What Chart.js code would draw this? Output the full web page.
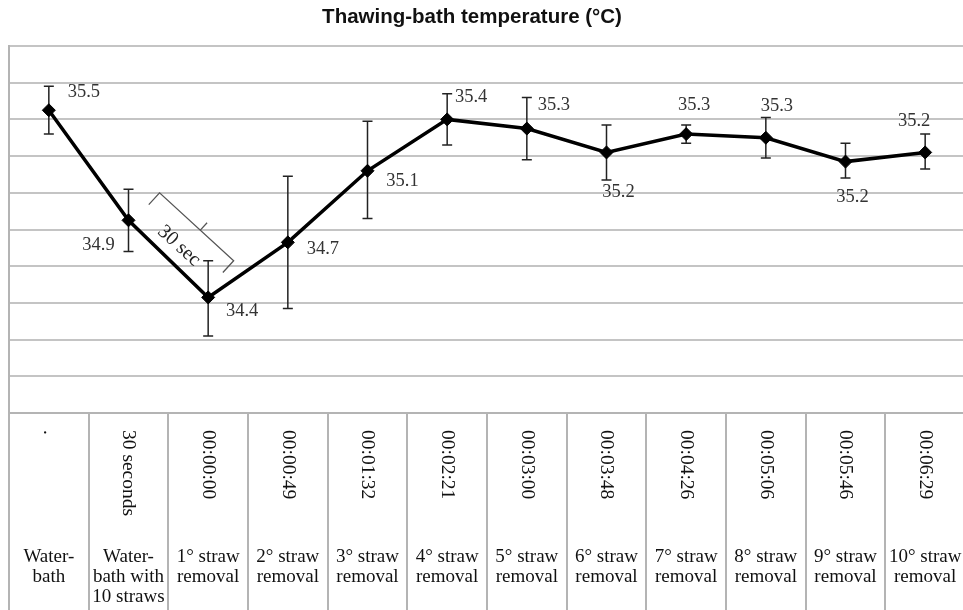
<!DOCTYPE html>
<html>
<head>
<meta charset="utf-8" />
<title>Thawing-bath temperature</title>
<script src="https://cdn.jsdelivr.net/npm/chart.js"></script>
<style>
  body { margin: 0; overflow: hidden; background: #fff; }
  #tempChart { display: block; }
</style>
</head>
<body>
<canvas id="tempChart" width="966" height="610"></canvas>
<script>
// stage names (bottom row of the table) and times (rotated row)
var stages = [
  ['Water-', 'bath'],
  ['Water-', 'bath with', '10 straws'],
  ['1\u00b0 straw', 'removal'],
  ['2\u00b0 straw', 'removal'],
  ['3\u00b0 straw', 'removal'],
  ['4\u00b0 straw', 'removal'],
  ['5\u00b0 straw', 'removal'],
  ['6\u00b0 straw', 'removal'],
  ['7\u00b0 straw', 'removal'],
  ['8\u00b0 straw', 'removal'],
  ['9\u00b0 straw', 'removal'],
  ['10\u00b0 straw', 'removal']
]
var times = ['.', '30 seconds', '00:00:00', '00:00:49', '00:01:32', '00:02:21',
             '00:03:00', '00:03:48', '00:04:26', '00:05:06', '00:05:46', '00:06:29']

// mean temperature and error bar ends (°C)
var meanTemp = [35.45, 34.85, 34.43, 34.73, 35.12, 35.40, 35.35, 35.22, 35.32, 35.30, 35.17, 35.22]
var errLow   = [35.32, 34.68, 34.22, 34.37, 34.86, 35.26, 35.18, 35.07, 35.27, 35.19, 35.08, 35.13]
var errHigh  = [35.58, 35.02, 34.63, 35.09, 35.39, 35.54, 35.52, 35.37, 35.37, 35.41, 35.27, 35.32]
var shownLabels = ['35.5', '34.9', '34.4', '34.7', '35.1', '35.4', '35.3', '35.2', '35.3', '35.3', '35.2', '35.2']

// where each value label sits relative to its point (px)
var labelOffsets = [[35, -18], [-30, 25], [34, 14], [35, 7], [35, 10], [24, -22],
                    [27, -23], [12, 40], [8, -29], [11, -32], [7, 36], [-11, -31]]

var serif = '"Liberation Serif", "Times New Roman", serif'

var errorBars = {
  id: 'errorBars',
  beforeDatasetsDraw: function(chart) {
    var ctx = chart.ctx, x = chart.scales.x, y = chart.scales.y
    ctx.save()
    ctx.strokeStyle = '#222'
    ctx.lineWidth = 1.5
    for (var i = 0; i < meanTemp.length; i++) {
      var px = x.getPixelForValue(i)
      var top = y.getPixelForValue(errHigh[i])
      var bot = y.getPixelForValue(errLow[i])
      ctx.beginPath()
      ctx.moveTo(px, top); ctx.lineTo(px, bot)
      ctx.moveTo(px - 5, top); ctx.lineTo(px + 5, top)
      ctx.moveTo(px - 5, bot); ctx.lineTo(px + 5, bot)
      ctx.stroke()
    }
    ctx.restore()
  }
}

var decorations = {
  id: 'decorations',
  afterDraw: function(chart) {
    var ctx = chart.ctx, x = chart.scales.x, y = chart.scales.y
    ctx.save()

    // title
    ctx.fillStyle = '#111'
    ctx.font = 'bold 20.5px "Liberation Sans", Arial, sans-serif'
    ctx.textAlign = 'center'
    ctx.textBaseline = 'middle'
    ctx.fillText('Thawing-bath temperature (\u00b0C)', 472, 17)

    // value labels
    ctx.fillStyle = '#333'
    ctx.font = '18.5px ' + serif
    for (var i = 0; i < meanTemp.length; i++) {
      var px = x.getPixelForValue(i), py = y.getPixelForValue(meanTemp[i])
      ctx.fillText(shownLabels[i], px + labelOffsets[i][0], py + labelOffsets[i][1])
    }

    // table under the axis
    ctx.fillStyle = '#111'
    for (var i = 0; i < stages.length; i++) {
      var cx = x.getPixelForValue(i)
      ctx.save()
      ctx.translate(cx, 430)
      ctx.rotate(Math.PI / 2)
      ctx.font = '19.5px ' + serif
      ctx.textAlign = 'left'
      ctx.textBaseline = 'middle'
      ctx.fillText(times[i], 0, 0)
      ctx.restore()

      ctx.font = '19px ' + serif
      ctx.textAlign = 'center'
      ctx.textBaseline = 'alphabetic'
      for (var j = 0; j < stages[i].length; j++) {
        ctx.fillText(stages[i][j], cx, 562 + j * 20)
      }
    }

    // "30 sec" bracket between the first two points
    var c1 = { x: x.getPixelForValue(1.39), y: y.getPixelForValue(35.0) }
    var c2 = { x: x.getPixelForValue(2.32), y: y.getPixelForValue(34.63) }
    var dx = c2.x - c1.x, dy = c2.y - c1.y
    var len = Math.sqrt(dx * dx + dy * dy)
    var ux = dx / len, uy = dy / len
    var nx = -uy, ny = ux
    ctx.strokeStyle = '#555'
    ctx.lineWidth = 1.3
    ctx.beginPath()
    ctx.moveTo(c1.x + nx * 16, c1.y + ny * 16)
    ctx.lineTo(c1.x, c1.y)
    ctx.lineTo(c2.x, c2.y)
    ctx.lineTo(c2.x + nx * 16, c2.y + ny * 16)
    var mx = c1.x + ux * len * 0.55, my = c1.y + uy * len * 0.55
    ctx.moveTo(mx, my)
    ctx.lineTo(mx - nx * 10, my - ny * 10)
    ctx.stroke()

    ctx.translate(c1.x + ux * len * 0.5 + nx * 26, c1.y + uy * len * 0.5 + ny * 26)
    ctx.rotate(Math.atan2(uy, ux))
    ctx.fillStyle = '#222'
    ctx.font = '20px ' + serif
    ctx.textAlign = 'center'
    ctx.textBaseline = 'middle'
    ctx.fillText('30 sec', 0, 0)

    ctx.restore()
  }
}

var ctx = document.getElementById('tempChart').getContext('2d')
new Chart(ctx, {
  type: 'line',
  data: {
    labels: stages.map(function(s) { return s.join(' ') }),
    datasets: [{
      data: meanTemp,
      borderColor: '#000',
      borderWidth: 3.5,
      backgroundColor: '#000',
      pointStyle: 'rectRot',
      pointRadius: 6.5,
      pointBorderWidth: 1,
      tension: 0
    }]
  },
  options: {
    responsive: false,
    animation: false,
    layout: { autoPadding: false, padding: { top: 46, left: 9, right: 1, bottom: 0 } },
    plugins: {
      legend: { display: false },
      tooltip: { enabled: false }
    },
    scales: {
      x: {
        offset: true,
        grid: {
          offset: true,
          drawOnChartArea: false,
          drawTicks: true,
          tickLength: 197,
          color: '#b4b4b4',
          lineWidth: 2
        },
        border: { display: true, color: '#b4b4b4', width: 2 },
        ticks: { display: false }
      },
      y: {
        min: 33.8,
        max: 35.8,
        ticks: { display: false, stepSize: 0.2 },
        grid: { drawTicks: false, color: '#c4c4c4', lineWidth: 2 },
        border: { display: true, color: '#b4b4b4', width: 2 }
      }
    }
  },
  plugins: [errorBars, decorations]
})
</script>
</body>
</html>
